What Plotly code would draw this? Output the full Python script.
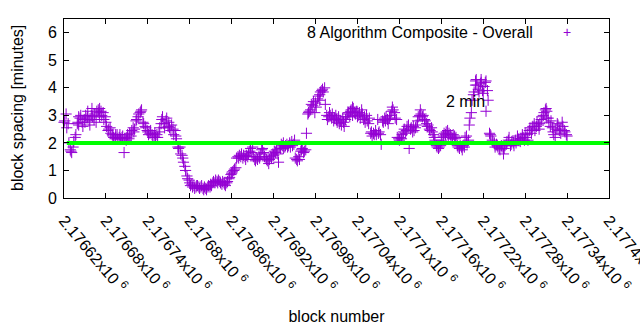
import plotly.graph_objects as go

# block numbers (sampled) and 8-algorithm composite block spacing [minutes]
block_start = 2176620
blocks = [block_start + b for b in range(0, 721) if b % 10 not in (2, 5, 8)]
spacing = [
    2.75, 2.8, 3.05, 2.55, 2.7, 2.0, 1.75, 1.7, 1.65, 1.85,
    2.05, 2.2, 2.3, 2.7, 2.75, 2.95, 2.9, 3.0, 2.75, 2.6,
    2.85, 2.75, 3.0, 2.9, 2.95, 2.8, 2.65, 3.0, 3.25, 2.95,
    2.85, 3.05, 2.75, 3.15, 3.2, 3.1, 3.25, 3.15, 3.0, 3.1,
    2.85, 2.95, 2.75, 2.6, 2.45, 2.5, 2.55, 2.35, 2.3, 2.25,
    2.2, 2.15, 2.2, 2.3, 2.15, 2.2, 2.3, 2.15, 2.2, 2.25,
    1.65, 2.15, 2.1, 2.2, 2.3, 2.15, 2.35, 2.25, 2.45, 2.55,
    2.4, 2.5, 2.8, 2.85, 2.95, 3.05, 3.1, 3.15, 3.2, 2.75,
    2.7, 2.6, 2.55, 2.45, 2.4, 2.3, 2.35, 2.45, 2.3, 2.2,
    2.25, 2.35, 2.2, 2.3, 2.2, 2.4, 2.55, 2.7, 2.85, 2.95,
    2.7, 2.55, 2.8, 2.9, 2.6, 2.75, 2.55, 2.45, 2.65, 2.5,
    2.3, 2.45, 2.25, 2.15, 1.85, 1.8, 1.85, 1.6, 1.55, 1.45,
    1.3, 1.15, 1.0, 0.8, 0.7, 0.65, 0.55, 0.45, 0.5, 0.4,
    0.45, 0.35, 0.4, 0.45, 0.45, 0.4, 0.35, 0.4, 0.45, 0.35,
    0.3, 0.4, 0.35, 0.3, 0.4, 0.45, 0.4, 0.5, 0.45, 0.55,
    0.6, 0.55, 0.65, 0.6, 0.55, 0.65, 0.6, 0.55, 0.5, 0.6,
    0.55, 0.5, 0.45, 0.55, 0.6, 0.7, 0.75, 0.85, 0.9, 0.95,
    1.0, 1.05, 1.1, 1.45, 1.5, 1.45, 1.55, 1.5, 1.6, 1.45,
    1.55, 1.5, 1.4, 1.55, 1.5, 1.6, 1.7, 1.8, 1.65, 1.85,
    1.5, 1.4, 1.35, 1.45, 1.4, 1.5, 1.45, 1.6, 1.75, 1.8,
    1.65, 1.5, 1.45, 1.4, 1.35, 1.25, 1.4, 1.5, 1.45, 1.6,
    1.55, 1.7, 1.65, 1.75, 1.6, 1.3, 1.85, 1.8, 1.95, 1.9,
    2.0, 1.85, 1.9, 1.95, 1.85, 1.9, 2.0, 1.85, 2.05, 1.9,
    1.95, 2.1, 1.45, 1.4, 1.35, 1.5, 1.4, 1.7, 1.75, 1.8,
    1.65, 1.7, 1.75, 2.35, 3.05, 3.1, 3.15, 3.2, 3.4, 3.35,
    3.5, 3.1, 3.45, 3.3, 3.6, 3.7, 3.75, 3.85, 3.9, 3.95,
    3.85, 4.0, 3.4, 3.0, 2.85, 2.95, 3.1, 3.0, 2.9, 3.05,
    2.8, 2.9, 3.0, 2.85, 2.75, 2.95, 2.7, 2.8, 2.65, 2.9,
    2.75, 2.6, 2.85, 2.95, 3.05, 3.1, 2.95, 3.15, 3.2, 3.0,
    3.25, 3.1, 3.05, 3.15, 2.95, 3.0, 3.1, 2.9, 3.2, 3.05,
    2.85, 2.95, 2.75, 3.0, 2.8, 2.7, 2.9, 2.35, 2.4, 2.25,
    2.35, 2.3, 2.45, 2.3, 2.85, 2.35, 2.4, 2.3, 1.95, 2.8,
    2.75, 2.9, 2.8, 2.95, 2.85, 2.7, 2.9, 3.0, 3.15, 3.3,
    3.2, 3.1, 2.9, 2.85, 2.2, 2.15, 2.1, 2.2, 2.15, 2.3,
    2.4, 2.5, 2.35, 2.45, 2.6, 2.65, 1.8, 2.5, 2.55, 2.4,
    2.6, 2.45, 2.55, 2.65, 2.8, 2.95, 3.0, 3.2, 3.05, 2.95,
    3.0, 2.85, 2.8, 2.7, 2.6, 2.65, 2.5, 2.45, 2.55, 2.4,
    2.3, 2.2, 2.1, 1.9, 1.85, 1.8, 1.85, 1.9, 2.1, 2.2,
    2.25, 2.35, 2.3, 2.4, 2.45, 2.25, 2.35, 2.3, 2.2, 2.15,
    2.3, 2.25, 2.15, 2.2, 1.9, 1.85, 1.8, 1.9, 1.85, 1.75,
    1.9, 1.85, 2.2, 2.25, 2.0, 2.1, 2.65, 2.9, 3.1, 3.55,
    3.75, 3.85, 4.25, 4.3, 4.1, 3.95, 3.85, 4.15, 4.2, 3.9,
    3.8, 4.05, 4.2, 4.25, 3.9, 3.55, 2.35, 2.3, 2.25, 2.1,
    2.05, 2.0, 1.85, 1.95, 1.9, 1.85, 1.8, 1.75, 1.9, 1.85,
    1.6, 1.8, 1.9, 1.95, 2.05, 2.1, 2.2, 1.9, 1.95, 2.05,
    2.0, 1.9, 2.1, 2.0, 2.25, 2.15, 2.1, 2.05, 2.15, 2.3,
    2.2, 2.1, 2.35, 2.2, 2.3, 2.1, 2.45, 2.55, 2.35, 2.5,
    2.6, 2.7, 2.45, 2.6, 2.75, 2.65, 2.5, 2.7, 2.85, 2.95,
    3.0, 3.1, 3.2, 3.25, 3.15, 2.9, 2.75, 2.6, 2.8, 2.55,
    2.4, 2.3, 2.2, 2.5, 2.7, 2.65, 2.45, 2.5, 2.35, 2.75,
    2.6, 2.45, 2.4, 2.3, 2.25,
]
extra_blocks = [2176641, 2176654, 2176671, 2176694, 2176934, 2176986,
                2177033, 2177209, 2177217, 2177224, 2177311]
extra_spacing = [2.65, 3.15, 2.95, 2.3, 1.8, 3.55, 3.3, 4.1, 4.3, 3.15, 2.9]

# 2-minute reference line
ref_x = [2176624, 2177400]
ref_y = [2, 2]

x_ticks = list(range(2176620, 2177401, 60))
x_ticktext = [f"{v / 1e6:.5f}".rstrip("0") + "x10 <sup>6</sup>" for v in x_ticks]
y_ticks = [0, 1, 2, 3, 4, 5, 6]

PURPLE = "#9400d3"
FONT = "Liberation Sans"
FS = 16

fig = go.Figure()
fig.add_trace(go.Scatter(
    x=blocks + extra_blocks, y=spacing + extra_spacing, mode="markers",
    marker=dict(symbol="cross-thin", size=8, line=dict(color=PURPLE, width=1)),
    showlegend=False, cliponaxis=False,
))
fig.add_trace(go.Scatter(
    x=ref_x, y=ref_y, mode="lines",
    line=dict(color="#00ff00", width=4), showlegend=False,
))

axis_common = dict(
    showline=True, linecolor="black", linewidth=1, mirror="ticks",
    ticks="inside", ticklen=5, tickcolor="black", showgrid=False, zeroline=False,
    tickfont=dict(family=FONT, size=FS, color="black"), automargin=False,
    ticklabeloverflow="allow",
)
fig.update_xaxes(
    range=[2176620, 2177400.01], tickvals=x_ticks, ticktext=x_ticktext,
    tickangle=50, ticklabelstandoff=6,
    title=dict(text="block number", font=dict(family=FONT, size=FS, color="black"), standoff=16),
    **axis_common,
)
fig.update_yaxes(
    range=[0, 6.5], tickvals=y_ticks, ticklabelstandoff=3,
    **axis_common,
)

fig.add_annotation(
    x=-0.0853, y=0.5, xref="paper", yref="paper", text="block spacing [minutes]",
    textangle=-90, showarrow=False, xanchor="center", yanchor="middle",
    font=dict(family=FONT, size=FS, color="black"),
)
fig.add_annotation(
    x=2177164, y=3.5, xref="x", yref="y", text="2 min", showarrow=False,
    xanchor="left", yanchor="middle", font=dict(family=FONT, size=FS, color="black"),
)
fig.add_annotation(
    x=0.865, y=0.925, xref="paper", yref="paper", text="8 Algorithm Composite - Overall",
    showarrow=False, xanchor="right", yanchor="middle",
    font=dict(family=FONT, size=FS, color="black"),
)
fig.add_annotation(
    x=0.923, y=0.925, xref="paper", yref="paper", text="+",
    showarrow=False, xanchor="center", yanchor="middle",
    font=dict(family=FONT, size=14, color=PURPLE),
)

fig.update_layout(
    width=640, height=330,
    margin=dict(l=64, r=31, t=19, b=132),
    plot_bgcolor="white", paper_bgcolor="white",
    font=dict(family=FONT, size=FS, color="black"),
)

fig.write_html("out.html")
